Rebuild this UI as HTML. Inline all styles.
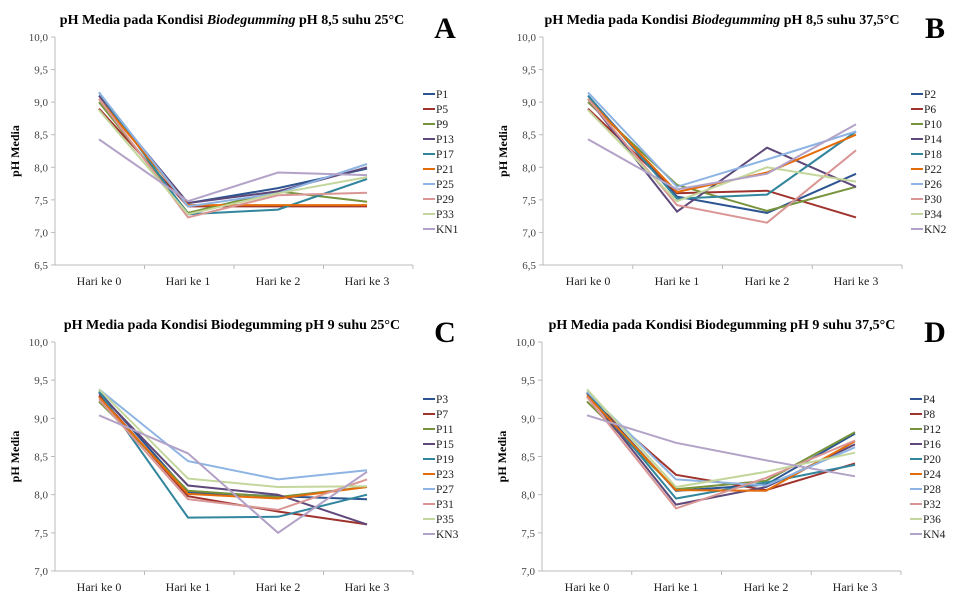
<!DOCTYPE html>
<html><head><meta charset="utf-8"><style>
html,body{margin:0;padding:0;background:#fff;}
svg{display:block;}
text{font-family:"Liberation Serif",serif;}
</style></head><body>
<svg id="s" width="962" height="602" viewBox="0 0 962 602" xmlns="http://www.w3.org/2000/svg" font-family="Liberation Serif, serif">
<g id="g" font-family="Liberation Serif, serif"></g>
</svg>
<script>
var cols=["#2C5592","#A0332E","#77933C","#5F497A","#31859C","#E46C0A","#8EB4E3","#D99694","#C3D69B","#B3A2C7"];
var panels=[
{ax:55,xe:413,top:37,bot:265,ymin:6.5,ymax:10,cats:[99,188,278,367],tx:232,ty:24,title:'pH Media pada Kondisi <tspan font-style="italic">Biodegumming</tspan> pH 8,5 suhu 25°C',L:"A",lx:445,ly:38,legx:423,legy:94,
names:["P1","P5","P9","P13","P17","P21","P25","P29","P33","KN1"],
d:[[9.1,7.45,7.68,7.98],[8.9,7.4,7.4,7.4],[9.0,7.3,7.63,7.47],[9.1,7.45,7.63,8.0],[9.15,7.28,7.35,7.82],[9.05,7.42,7.42,7.42],[9.15,7.4,7.6,8.05],[9.05,7.23,7.57,7.61],[8.88,7.28,7.6,7.85],[8.43,7.48,7.92,7.88]]},
{ax:543,xe:902,top:37,bot:265,ymin:6.5,ymax:10,cats:[588,677,767,856],tx:722,ty:24,title:'pH Media pada Kondisi <tspan font-style="italic">Biodegumming</tspan> pH 8,5 suhu 37,5°C',L:"B",lx:935,ly:38,legx:911,legy:94,
names:["P2","P6","P10","P14","P18","P22","P26","P30","P34","KN2"],
d:[[9.1,7.55,7.3,7.9],[8.9,7.6,7.64,7.23],[9.0,7.73,7.33,7.7],[9.05,7.32,8.3,7.7],[9.1,7.52,7.58,8.55],[9.05,7.62,7.92,8.5],[9.15,7.7,8.12,8.55],[9.05,7.42,7.15,8.26],[8.88,7.48,8.0,7.78],[8.43,7.66,7.9,8.66]]},
{ax:55,xe:413,top:342,bot:571,ymin:7,ymax:10,cats:[99,188,278,367],tx:232,ty:329,title:'pH Media pada Kondisi Biodegumming pH 9 suhu 25°C',L:"C",lx:445,ly:342,legx:423,legy:399,
names:["P3","P7","P11","P15","P19","P23","P27","P31","P35","KN3"],
d:[[9.35,8.03,7.98,7.94],[9.3,7.98,7.78,7.61],[9.22,8.05,7.97,8.1],[9.33,8.12,8.0,7.61],[9.35,7.7,7.71,8.0],[9.28,8.01,7.95,8.1],[9.38,8.44,8.2,8.32],[9.25,7.94,7.8,8.2],[9.38,8.21,8.1,8.11],[9.04,8.54,7.5,8.3]]},
{ax:542,xe:901,top:342,bot:571,ymin:7,ymax:10,cats:[587,676,766,855],tx:722,ty:329,title:'pH Media pada Kondisi Biodegumming pH 9 suhu 37,5°C',L:"D",lx:935,ly:342,legx:910,legy:399,
names:["P4","P8","P12","P16","P20","P24","P28","P32","P36","KN4"],
d:[[9.33,8.05,8.13,8.8],[9.28,8.26,8.06,8.41],[9.22,8.07,8.18,8.82],[9.33,7.87,8.1,8.66],[9.35,7.95,8.16,8.39],[9.3,8.06,8.05,8.7],[9.35,8.2,8.12,8.62],[9.28,7.82,8.22,8.71],[9.38,8.1,8.3,8.55],[9.04,8.68,8.45,8.24]]}
];
var h="";
panels.forEach(function(p){
 function Y(v){return p.bot-(v-p.ymin)/(p.ymax-p.ymin)*(p.bot-p.top);}
 h+='<text x="'+p.tx+'" y="'+p.ty+'" font-size="14" font-weight="bold" text-anchor="middle">'+p.title+'</text>';
 h+='<text x="'+p.lx+'" y="'+p.ly+'" font-size="30" font-weight="bold" text-anchor="middle">'+p.L+'</text>';
 h+='<line x1="'+p.ax+'" y1="'+p.top+'" x2="'+p.ax+'" y2="'+p.bot+'" stroke="#bbb"/>';
 h+='<line x1="'+(p.ax-4)+'" y1="'+p.bot+'" x2="'+p.xe+'" y2="'+p.bot+'" stroke="#bbb"/>';
 for(var v=p.ymin;v<=p.ymax+0.001;v+=0.5){var y=Y(v);
  h+='<line x1="'+(p.ax-4)+'" y1="'+y+'" x2="'+p.ax+'" y2="'+y+'" stroke="#bbb"/>';
  h+='<text x="'+(p.ax-7)+'" y="'+(y+4)+'" font-size="11" fill="#444" text-anchor="end">'+v.toFixed(1).replace(".",",")+'</text>';}
 var w=(p.xe-p.ax)/4;
 for(var i=1;i<=4;i++){var x=p.ax+w*i;h+='<line x1="'+x+'" y1="'+p.bot+'" x2="'+x+'" y2="'+(p.bot+4)+'" stroke="#bbb"/>';}
 p.cats.forEach(function(c,i){h+='<text x="'+c+'" y="'+(p.bot+20)+'" font-size="12" fill="#222" text-anchor="middle">Hari ke '+i+'</text>';});
 var my=(p.top+p.bot)/2;
 h+='<text x="'+(p.ax-36)+'" y="'+my+'" font-size="12" font-weight="bold" text-anchor="middle" transform="rotate(-90 '+(p.ax-36)+' '+my+')">pH Media</text>';
 p.d.forEach(function(s,k){
  var pts=s.map(function(v,i){return p.cats[i]+","+Y(v).toFixed(1);}).join(" ");
  h+='<polyline points="'+pts+'" fill="none" stroke="'+cols[k]+'" stroke-width="2"/>';
 });
 p.names.forEach(function(n,k){var y=p.legy+k*15;
  h+='<line x1="'+p.legx+'" y1="'+y+'" x2="'+(p.legx+12)+'" y2="'+y+'" stroke="'+cols[k]+'" stroke-width="2"/>';
  h+='<text x="'+(p.legx+13)+'" y="'+(y+4)+'" font-size="11.5" fill="#222">'+n+'</text>';});
});
document.getElementById("g").innerHTML=h;
</script>
</body></html>
